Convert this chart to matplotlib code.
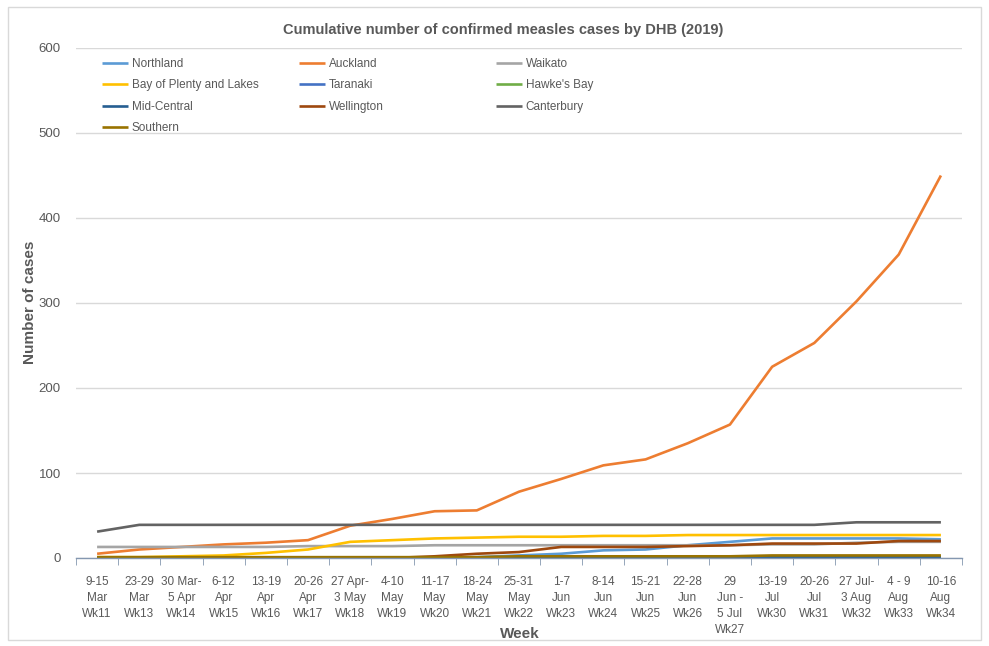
import numpy as np
import matplotlib.pyplot as plt
from matplotlib.patches import Rectangle

plt.rcParams['font.family'] = ['Liberation Sans', 'DejaVu Sans']

# Week labels (x categories)
weeks = ["9-15\nMar\nWk11", "23-29\nMar\nWk13", "30 Mar-\n5 Apr\nWk14", "6-12\nApr\nWk15",
         "13-19\nApr\nWk16", "20-26\nApr\nWk17", "27 Apr-\n3 May\nWk18", "4-10\nMay\nWk19",
         "11-17\nMay\nWk20", "18-24\nMay\nWk21", "25-31\nMay\nWk22", "1-7\nJun\nWk23",
         "8-14\nJun\nWk24", "15-21\nJun\nWk25", "22-28\nJun\nWk26", "29\nJun -\n5 Jul\nWk27",
         "13-19\nJul\nWk30", "20-26\nJul\nWk31", "27 Jul-\n3 Aug\nWk32", "4 - 9\nAug\nWk33",
         "10-16\nAug\nWk34"]

# Cumulative cases per DHB
northland  = [0, 0, 0, 0, 0, 0, 0, 0, 0, 1, 3, 5, 9, 10, 15, 19, 23, 23, 23, 23, 22]
auckland   = [5, 10, 13, 16, 18, 21, 38, 46, 55, 56, 78, 93, 109, 116, 135, 157, 225, 253, 302, 357, 450]
waikato    = [13, 13, 13, 13, 13, 14, 14, 14, 15, 15, 15, 15, 15, 15, 15, 15, 16, 16, 18, 19, 19]
bop_lakes  = [1, 1, 2, 3, 6, 10, 19, 21, 23, 24, 25, 25, 26, 26, 27, 27, 27, 27, 27, 27, 27]
taranaki   = [0, 0, 0, 0, 0, 0, 0, 0, 0, 0, 0, 0, 0, 0, 0, 0, 1, 1, 1, 1, 1]
hawkes_bay = [0, 0, 0, 0, 0, 0, 0, 0, 0, 0, 1, 1, 1, 1, 1, 1, 1, 1, 1, 1, 1]
mid_central = [0, 0, 0, 0, 0, 0, 0, 0, 0, 0, 0, 0, 0, 0, 1, 1, 1, 1, 1, 1, 1]
wellington = [0, 0, 0, 0, 0, 0, 0, 0, 2, 5, 7, 13, 13, 13, 14, 15, 17, 17, 17, 20, 20]
canterbury = [31, 39, 39, 39, 39, 39, 39, 39, 39, 39, 39, 39, 39, 39, 39, 39, 39, 39, 42, 42, 42]
southern   = [1, 1, 1, 1, 1, 1, 1, 1, 1, 1, 2, 2, 2, 2, 2, 2, 3, 3, 3, 3, 3]

series = [
    ('Northland', northland, '#5B9BD5'),
    ('Auckland', auckland, '#ED7D31'),
    ('Waikato', waikato, '#A5A5A5'),
    ('Bay of Plenty and Lakes', bop_lakes, '#FFC000'),
    ('Taranaki', taranaki, '#4472C4'),
    ("Hawke's Bay", hawkes_bay, '#70AD47'),
    ('Mid-Central', mid_central, '#255E91'),
    ('Wellington', wellington, '#9E480E'),
    ('Canterbury', canterbury, '#636363'),
    ('Southern', southern, '#997300'),
]

W, H = 989, 646
fig = plt.figure(figsize=(W / 100, H / 100), dpi=100)
ax = fig.add_axes([76 / W, 1 - 558 / H, (962 - 76) / W, (558 - 48) / H])

x = np.arange(len(weeks))
handles = {}
for name, vals, col in series:
    ln, = ax.plot(x, vals, color=col, lw=1.9, solid_capstyle='butt', label=name)
    handles[name] = ln

ax.set_xlim(-0.5, len(weeks) - 0.5)
ax.set_ylim(0, 600)
ax.set_yticks(range(0, 601, 100))
ax.yaxis.grid(True, color='#D9D9D9', lw=1)
ax.set_axisbelow(True)
for s in ['top', 'right', 'left']:
    ax.spines[s].set_visible(False)
ax.spines['bottom'].set_color('#8497B0')
ax.spines['bottom'].set_linewidth(1)

ax.set_xticks(x)
ax.set_xticklabels(weeks, fontsize=8.5, color='#595959', linespacing=1.45)
ax.set_xticks(np.arange(-0.5, len(weeks), 1), minor=True)
ax.tick_params(axis='x', which='major', length=0, pad=13)
ax.tick_params(axis='x', which='minor', length=5, color='#8497B0', direction='out')
ax.tick_params(axis='y', length=0, pad=11, labelsize=9.5, labelcolor='#595959')

fig.text(503 / W, 1 - 30 / H, 'Cumulative number of confirmed measles cases by DHB (2019)',
         ha='center', va='center', fontsize=10.5, fontweight='bold', color='#595959')
fig.text(520 / W, 1 - 634 / H, 'Week', ha='center', va='center',
         fontsize=11, fontweight='bold', color='#595959')
fig.text(30 / W, 1 - 302 / H, 'Number of cases', ha='center', va='center', rotation=90,
         fontsize=11, fontweight='bold', color='#595959')

# legend laid out in three columns like the original
columns = [
    (102, ['Northland', 'Bay of Plenty and Lakes', 'Mid-Central', 'Southern']),
    (299, ['Auckland', 'Taranaki', 'Wellington']),
    (496, ['Waikato', "Hawke's Bay", 'Canterbury']),
]
for xpx, names in columns:
    leg = fig.legend([handles[n] for n in names], names, loc='upper left',
                     bbox_to_anchor=(xpx / W, 1 - 58 / H), frameon=False,
                     fontsize=8.5, handlelength=2.2, handletextpad=0.3,
                     labelspacing=0.8, borderpad=0, borderaxespad=0)
    for t in leg.get_texts():
        t.set_color('#595959')

fig.patches.append(Rectangle((8 / W, 1 - 640 / H), (981 - 8) / W, (640 - 7) / H,
                             transform=fig.transFigure, fill=False,
                             edgecolor='#D9D9D9', lw=1))

fig.savefig('out.png', dpi=100)
